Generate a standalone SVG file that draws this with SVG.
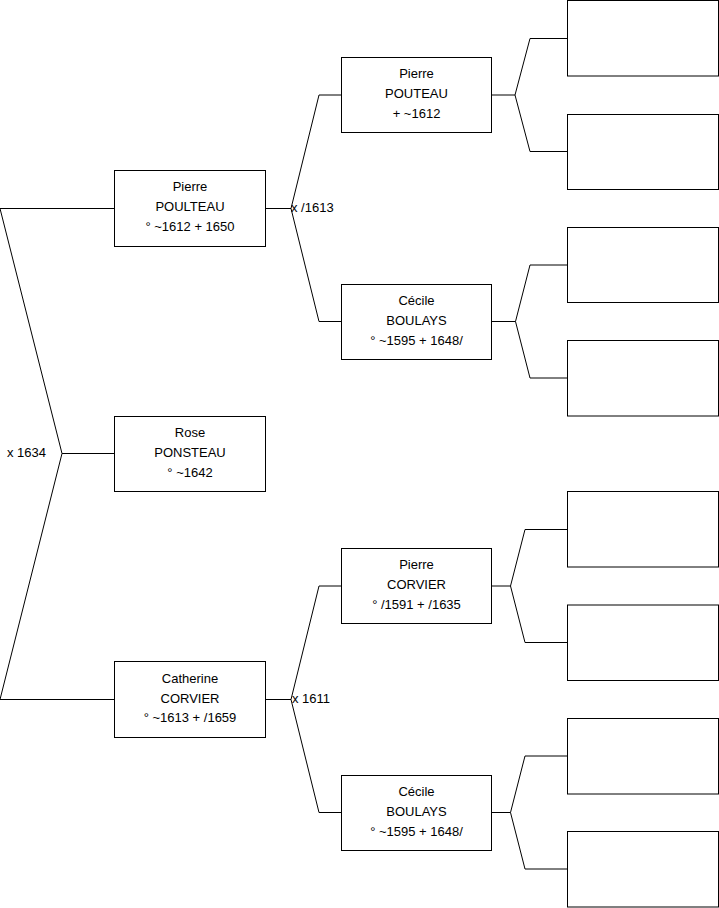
<svg xmlns="http://www.w3.org/2000/svg" width="719" height="908" viewBox="0 0 719 908">
<style>
.box{fill:#fff;stroke:#000;stroke-width:1}
.ln{fill:none;stroke:#000;stroke-width:1}
text{font-family:"Liberation Sans",Arial,sans-serif;font-size:13px;fill:#000}
.c{text-anchor:middle}
</style>
<rect width="719" height="908" fill="#fff"/>
<g id="connectors">
<polyline class="ln" points="114,208.5 0,208.5 62,453.5 0,699.5 114,699.5"/>
<line class="ln" x1="62" y1="453.5" x2="114" y2="453.5"/>
<text x="7" y="457">x 1634</text>
<polyline class="ln" points="265,208.5 291,208.5"/>
<polyline class="ln" points="341,95 319,95 291,208.5 319,321.5 341,321.5"/>
<text x="291" y="212">x /1613</text>
<polyline class="ln" points="265,699.5 291,699.5"/>
<polyline class="ln" points="341,586 319,586 291,699.5 319,812.5 341,812.5"/>
<text x="292" y="703">x 1611</text>
<polyline class="ln" points="492,95 515,95"/>
<polyline class="ln" points="567,38.5 530,38.5 515,95 530,151.5 567,151.5"/>
<polyline class="ln" points="492,321.5 515.5,321.5"/>
<polyline class="ln" points="567,265 530,265 515.5,321.5 530,378 567,378"/>
<polyline class="ln" points="492,586 510.5,586"/>
<polyline class="ln" points="567,529.5 525,529.5 510.5,586 525,642.5 567,642.5"/>
<polyline class="ln" points="492,812.5 510.5,812.5"/>
<polyline class="ln" points="567,756 525,756 510.5,812.5 525,869 567,869"/>
</g>
<g id="pierre-poulteau">
<rect class="box" x="114.5" y="170.5" width="151" height="76"/>
<text class="c" x="190" y="191">Pierre</text>
<text class="c" x="190" y="211">POULTEAU</text>
<text class="c" x="190" y="230.5">° ~1612 + 1650</text>
</g>
<g id="rose-ponsteau">
<rect class="box" x="114.5" y="416.5" width="151" height="75"/>
<text class="c" x="190" y="437">Rose</text>
<text class="c" x="190" y="457">PONSTEAU</text>
<text class="c" x="190" y="477">° ~1642</text>
</g>
<g id="catherine-corvier">
<rect class="box" x="114.5" y="661.5" width="151" height="76"/>
<text class="c" x="190" y="682.5">Catherine</text>
<text class="c" x="190" y="702.5">CORVIER</text>
<text class="c" x="190" y="722">° ~1613 + /1659</text>
</g>
<g id="pierre-pouteau">
<rect class="box" x="341.5" y="57.5" width="150" height="75"/>
<text class="c" x="416.5" y="78">Pierre</text>
<text class="c" x="416.5" y="98">POUTEAU</text>
<text class="c" x="416.5" y="117.5">+ ~1612</text>
</g>
<g id="cecile-boulays-1">
<rect class="box" x="341.5" y="284.5" width="150" height="75"/>
<text class="c" x="416.5" y="305">Cécile</text>
<text class="c" x="416.5" y="325">BOULAYS</text>
<text class="c" x="416.5" y="344.5">° ~1595 + 1648/</text>
</g>
<g id="pierre-corvier">
<rect class="box" x="341.5" y="548.5" width="150" height="75"/>
<text class="c" x="416.5" y="569">Pierre</text>
<text class="c" x="416.5" y="589">CORVIER</text>
<text class="c" x="416.5" y="608.5">° /1591 + /1635</text>
</g>
<g id="cecile-boulays-2">
<rect class="box" x="341.5" y="775.5" width="150" height="75"/>
<text class="c" x="416.5" y="796">Cécile</text>
<text class="c" x="416.5" y="816">BOULAYS</text>
<text class="c" x="416.5" y="835.5">° ~1595 + 1648/</text>
</g>
<g id="empty-1"><rect class="box" x="567.5" y="0.5" width="151" height="75.5"/></g>
<g id="empty-2"><rect class="box" x="567.5" y="114.5" width="151" height="75"/></g>
<g id="empty-3"><rect class="box" x="567.5" y="227.5" width="151" height="75"/></g>
<g id="empty-4"><rect class="box" x="567.5" y="340.5" width="151" height="75.5"/></g>
<g id="empty-5"><rect class="box" x="567.5" y="491.5" width="151" height="75.5"/></g>
<g id="empty-6"><rect class="box" x="567.5" y="605" width="151" height="75.5"/></g>
<g id="empty-7"><rect class="box" x="567.5" y="718.5" width="151" height="75.5"/></g>
<g id="empty-8"><rect class="box" x="567.5" y="831.5" width="151" height="75.5"/></g>
</svg>
